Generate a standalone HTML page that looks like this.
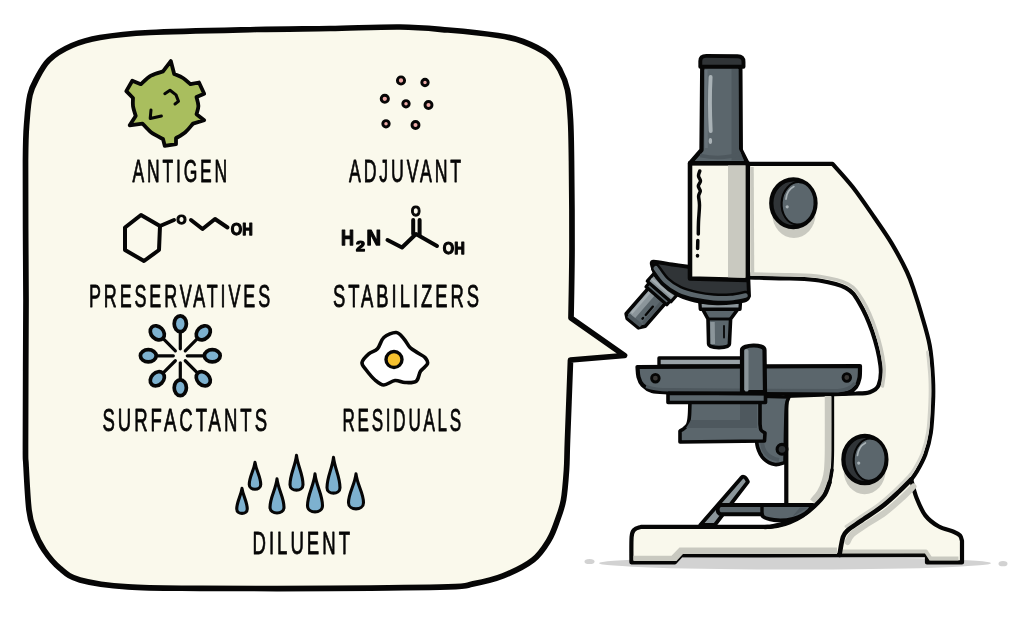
<!DOCTYPE html>
<html lang="en"><head><meta charset="utf-8"><title>Vaccine ingredients</title>
<style>html,body{margin:0;padding:0;background:#fff}body{width:1024px;height:643px;overflow:hidden}svg{display:block;will-change:transform;transform:translateZ(0)}</style>
</head><body>
<svg width="1024" height="643" viewBox="0 0 1024 643">
<path d="M26.0 300.0C25.9 276.8 25.3 191.0 25.5 161.0C25.7 131.0 26.2 131.0 27.0 120.0C27.8 109.0 28.5 101.7 30.0 95.0C31.5 88.3 32.8 85.8 36.0 80.0C39.2 74.2 43.0 65.8 49.0 60.0C55.0 54.2 63.5 49.2 72.0 45.5C80.5 41.8 87.0 39.7 100.0 37.5C113.0 35.3 124.0 33.8 150.0 32.5C176.0 31.2 226.0 30.2 256.0 29.5C286.0 28.8 306.0 28.9 330.0 28.5C354.0 28.1 380.3 26.8 400.0 27.0C419.7 27.2 431.7 28.6 448.0 30.0C464.3 31.4 485.5 33.6 498.0 35.5C510.5 37.4 514.7 38.3 523.0 41.5C531.3 44.7 541.8 49.8 548.0 54.5C554.2 59.2 556.8 64.1 560.0 70.0C563.2 75.9 565.8 81.7 567.5 90.0C569.2 98.3 569.8 108.2 570.5 120.0C571.2 131.8 571.2 139.3 571.5 161.0C571.8 182.7 572.1 223.8 572.0 250.0C571.9 276.2 571.2 306.7 571.0 318.0L624.5 355.5L570.5 360.0C570.0 373.3 568.2 421.7 567.5 440.0C566.8 458.3 567.2 460.0 566.5 470.0C565.8 480.0 565.0 491.7 563.5 500.0C562.0 508.3 559.9 513.3 557.5 520.0C555.1 526.7 553.1 533.3 549.0 540.0C544.9 546.7 540.7 554.0 533.0 560.0C525.3 566.0 513.0 571.9 503.0 575.9C493.0 579.9 482.2 582.1 473.0 583.9C463.8 585.7 471.8 586.1 448.0 586.9C424.2 587.6 371.3 588.1 330.0 588.4C288.7 588.6 233.7 588.6 200.0 588.4C166.3 588.1 148.0 588.3 128.0 586.9C108.0 585.5 91.3 583.0 80.0 579.9C68.7 576.8 66.0 573.4 60.0 568.4C54.0 563.4 48.3 556.4 44.0 550.0C39.7 543.6 36.5 536.7 34.0 530.0C31.5 523.3 30.3 520.8 29.0 510.0C27.7 499.2 26.6 476.7 26.0 465.0C25.4 453.3 25.5 467.5 25.5 440.0C25.5 412.5 25.9 323.3 26.0 300.0Z" fill="#faf9ec" stroke="#060606" stroke-width="5.7" stroke-linejoin="round"/>
<g font-family="'Liberation Sans', sans-serif" fill="#060606" stroke="#060606" stroke-width="0.8" stroke-linejoin="round">
<text x="132.5" y="181.5" font-size="31" letter-spacing="5" textLength="97.5" lengthAdjust="spacingAndGlyphs">ANTIGEN</text>
<text x="349" y="182" font-size="31" letter-spacing="5" textLength="115.0" lengthAdjust="spacingAndGlyphs">ADJUVANT</text>
<text x="89" y="306.5" font-size="31" letter-spacing="5" textLength="184.0" lengthAdjust="spacingAndGlyphs">PRESERVATIVES</text>
<text x="333" y="306.5" font-size="31" letter-spacing="5" textLength="149.0" lengthAdjust="spacingAndGlyphs">STABILIZERS</text>
<text x="102.5" y="431" font-size="31" letter-spacing="5" textLength="167.5" lengthAdjust="spacingAndGlyphs">SURFACTANTS</text>
<text x="342.5" y="431" font-size="31" letter-spacing="5" textLength="121.5" lengthAdjust="spacingAndGlyphs">RESIDUALS</text>
<text x="252.5" y="554" font-size="31" letter-spacing="5" textLength="100.5" lengthAdjust="spacingAndGlyphs">DILUENT</text>
</g>
<path d="M170.8 61.1L174.2 74.0C175.7 74.7 180.3 76.3 183.0 78.0C185.7 79.7 189.2 83.2 190.5 84.2L199.0 82.5L204.2 93.7L196.5 97.1C196.8 98.6 198.4 103.2 198.4 106.0C198.4 108.8 196.8 112.8 196.5 114.2L204.2 120.2L193.0 123.6C191.7 125.0 188.1 129.8 185.3 132.2C182.5 134.6 177.6 137.2 176.0 138.2L176.0 144.2L164.8 145.9L163.0 139.0C161.0 137.9 154.4 134.8 151.0 132.2C147.6 129.6 143.9 125.0 142.5 123.6L129.7 125.3L135.7 115.9C135.2 114.2 133.4 109.0 133.0 106.0C132.6 103.0 133.0 99.3 133.0 98.0L126.3 91.1L132.3 80.8L140.8 84.2C142.5 82.8 147.3 77.8 151.0 75.7C154.7 73.6 161.0 72.1 163.0 71.4L170.8 61.1Z" fill="#a9be5e" stroke="#060606" stroke-width="3.8" stroke-linejoin="round"/>
<path d="M164.8 93.7L170 90.2L176 94.9L178.5 101.4L175 104" fill="none" stroke="#060606" stroke-width="3" stroke-linecap="round" stroke-linejoin="round"/>
<path d="M151 110L150.2 118.5L161.4 116" fill="none" stroke="#060606" stroke-width="3" stroke-linecap="round" stroke-linejoin="round"/>
<circle cx="401" cy="80.5" r="3.6" fill="#eeaaa8" stroke="#060606" stroke-width="2.9"/>
<circle cx="425" cy="82.5" r="3.2" fill="#eeaaa8" stroke="#060606" stroke-width="2.9"/>
<circle cx="384.8" cy="98.8" r="3.6" fill="#eeaaa8" stroke="#060606" stroke-width="2.9"/>
<circle cx="406" cy="103.8" r="3.2" fill="#eeaaa8" stroke="#060606" stroke-width="2.9"/>
<circle cx="428.5" cy="105" r="3.5" fill="#eeaaa8" stroke="#060606" stroke-width="2.9"/>
<circle cx="386" cy="123.8" r="3.2" fill="#eeaaa8" stroke="#060606" stroke-width="2.9"/>
<circle cx="415.5" cy="125" r="3.5" fill="#eeaaa8" stroke="#060606" stroke-width="2.9"/>
<g fill="none" stroke="#060606" stroke-width="4" stroke-linecap="round" stroke-linejoin="round">
<path d="M141 215L160 226L159 250L144 261L125 250L125 227.5Z"/>
<path d="M160 226L174 220"/>
<path d="M191 220L202.5 229L215 219L227.5 227.5"/>
<path d="M387.5 240L402 247.5L416 234L437 246"/>
<path d="M413.2 234L413.2 220M419.6 235L419.6 220"/>
</g>
<g font-family="'Liberation Sans', sans-serif" font-weight="bold" fill="#060606" stroke="#060606" stroke-width="1.25" stroke-linejoin="round">
<text x="176.6" y="223.6" font-size="13.5" textLength="10" lengthAdjust="spacingAndGlyphs">O</text>
<text x="411" y="215.6" font-size="15.5" textLength="9.6" lengthAdjust="spacingAndGlyphs">O</text>
<text x="230.8" y="234.8" font-size="17" textLength="22" lengthAdjust="spacingAndGlyphs">OH</text>
<text x="442.8" y="254" font-size="17" textLength="22" lengthAdjust="spacingAndGlyphs">OH</text>
<text y="245" font-size="21.5"><tspan x="341" textLength="13" lengthAdjust="spacingAndGlyphs">H</tspan><tspan x="356" y="250.6" font-size="14.5" textLength="9" lengthAdjust="spacingAndGlyphs">2</tspan><tspan x="366.5" y="245" textLength="14.5" lengthAdjust="spacingAndGlyphs">N</tspan></text>
</g>
<g stroke="#060606" stroke-linecap="round">
<g transform="translate(180.3,355.8) rotate(-90)"><path d="M7 0L24 0" stroke-width="3.2" fill="none"/><ellipse cx="32" cy="0" rx="7.9" ry="6.1" fill="#7db1cf" stroke-width="3.7"/></g>
<g transform="translate(180.3,355.8) rotate(-45)"><path d="M7 0L24.5 0" stroke-width="3.2" fill="none"/><ellipse cx="32.5" cy="0" rx="7.9" ry="6.1" fill="#7db1cf" stroke-width="3.7"/></g>
<g transform="translate(180.3,355.8) rotate(0)"><path d="M7 0L24 0" stroke-width="3.2" fill="none"/><ellipse cx="32" cy="0" rx="7.9" ry="6.1" fill="#7db1cf" stroke-width="3.7"/></g>
<g transform="translate(180.3,355.8) rotate(45)"><path d="M7 0L24.5 0" stroke-width="3.2" fill="none"/><ellipse cx="32.5" cy="0" rx="7.9" ry="6.1" fill="#7db1cf" stroke-width="3.7"/></g>
<g transform="translate(180.3,355.8) rotate(90)"><path d="M7 0L24 0" stroke-width="3.2" fill="none"/><ellipse cx="32" cy="0" rx="7.9" ry="6.1" fill="#7db1cf" stroke-width="3.7"/></g>
<g transform="translate(180.3,355.8) rotate(135)"><path d="M7 0L24.5 0" stroke-width="3.2" fill="none"/><ellipse cx="32.5" cy="0" rx="7.9" ry="6.1" fill="#7db1cf" stroke-width="3.7"/></g>
<g transform="translate(180.3,355.8) rotate(180)"><path d="M7 0L24 0" stroke-width="3.2" fill="none"/><ellipse cx="32" cy="0" rx="7.9" ry="6.1" fill="#7db1cf" stroke-width="3.7"/></g>
<g transform="translate(180.3,355.8) rotate(225)"><path d="M7 0L24.5 0" stroke-width="3.2" fill="none"/><ellipse cx="32.5" cy="0" rx="7.9" ry="6.1" fill="#7db1cf" stroke-width="3.7"/></g>
</g>
<path d="M396.2 332.5C399.6 332.8 401.7 336.5 404.0 339.0C406.3 341.5 407.7 345.2 410.0 347.5C412.3 349.8 415.5 351.3 418.0 353.0C420.5 354.7 423.4 355.7 425.0 357.5C426.6 359.3 428.2 361.5 427.5 363.8C426.8 366.1 422.4 368.3 420.5 371.2C418.6 374.1 418.8 379.3 416.2 381.2C413.6 383.1 408.5 382.6 405.0 382.5C401.5 382.4 398.5 380.1 395.0 380.5C391.5 380.9 387.1 385.1 383.8 385.0C380.5 384.9 377.9 382.5 375.0 380.0C372.1 377.5 368.4 372.9 366.2 370.0C364.0 367.1 361.6 365.2 362.0 362.5C362.4 359.8 366.2 356.1 368.8 353.8C371.4 351.5 375.0 351.5 377.5 348.8C380.0 346.1 380.7 340.2 383.8 337.5C386.9 334.8 392.8 332.2 396.2 332.5Z" fill="#ffffff" stroke="#060606" stroke-width="3.6"/>
<circle cx="394" cy="359.5" r="8" fill="#f6c12f" stroke="#060606" stroke-width="3.4"/>
<path d="M242 488.4C243.2 496.22999999999996 247.25 501.972 247.25 508.9875C247.25 514.9 236.75 514.9 236.75 508.9875C236.75 501.972 240.8 496.22999999999996 242 488.4Z" fill="#7db1cf" stroke="#060606" stroke-width="3.1" stroke-linejoin="round"/>
<path d="M255 462.4C256.2 470.83 260.75 477.012 260.75 484.4625C260.75 490.9 249.25 490.9 249.25 484.4625C249.25 477.012 253.8 470.83 255 462.4Z" fill="#7db1cf" stroke="#060606" stroke-width="3.1" stroke-linejoin="round"/>
<path d="M277 478.9C278.2 489.58 284.0 497.412 284.0 507.15C284.0 514.9 270.0 514.9 270.0 507.15C270.0 497.412 275.8 489.58 277 478.9Z" fill="#7db1cf" stroke="#060606" stroke-width="3.1" stroke-linejoin="round"/>
<path d="M296.5 455.4C297.7 466.22999999999996 303.0 474.17199999999997 303.0 484.675C303.0 491.9 290.0 491.9 290.0 484.675C290.0 474.17199999999997 295.3 466.22999999999996 296.5 455.4Z" fill="#7db1cf" stroke="#060606" stroke-width="3.1" stroke-linejoin="round"/>
<path d="M315 473.9C316.2 485.78 322.5 494.49199999999996 322.5 505.625C322.5 513.9 307.5 513.9 307.5 505.625C307.5 494.49199999999996 313.8 485.78 315 473.9Z" fill="#7db1cf" stroke="#060606" stroke-width="3.1" stroke-linejoin="round"/>
<path d="M333.5 457.4C334.7 468.53 340.0 476.692 340.0 487.675C340.0 494.9 327.0 494.9 327.0 487.675C327.0 476.692 332.3 468.53 333.5 457.4Z" fill="#7db1cf" stroke="#060606" stroke-width="3.1" stroke-linejoin="round"/>
<path d="M356 473.9C357.2 484.88 363.5 492.932 363.5 502.625C363.5 510.9 348.5 510.9 348.5 502.625C348.5 492.932 354.8 484.88 356 473.9Z" fill="#7db1cf" stroke="#060606" stroke-width="3.1" stroke-linejoin="round"/>
<!-- microscope -->
<ellipse cx="795" cy="563.2" rx="196" ry="6.3" fill="#d2d2d2"/>
<ellipse cx="589.5" cy="561.5" rx="5" ry="2.6" fill="#d2d2d2"/>
<ellipse cx="1003" cy="563.7" rx="4.5" ry="2.6" fill="#d2d2d2"/>
<path d="M748.0 163.8L832.5 163.8C835.9 167.7 845.7 178.1 852.7 187.0C859.7 195.9 867.9 208.1 874.4 217.5C880.9 226.9 886.4 234.5 891.8 243.6C897.2 252.7 903.2 263.9 907.0 272.0C910.8 280.1 912.2 285.2 914.5 292.0C916.8 298.8 918.5 303.8 921.0 312.7C923.5 321.6 927.7 334.4 929.7 345.3C931.7 356.2 932.4 368.6 932.9 378.0C933.4 387.4 933.4 392.9 933.0 402.0C932.6 411.1 932.1 424.0 930.8 432.7C929.5 441.4 927.7 447.9 925.3 454.4C922.9 460.9 919.0 467.6 916.6 471.8C914.2 476.0 912.1 478.2 911.2 479.5C912.1 482.6 914.2 492.0 916.6 498.0C919.0 504.0 921.7 510.7 925.3 515.4C928.9 520.1 933.7 523.6 938.4 526.3C943.1 529.0 950.0 530.2 953.6 531.7C957.2 533.2 958.6 534.0 960.0 535.5C961.4 537.0 961.7 540.1 962.0 541.0L962.0 562.4L927.0 562.4L927.0 555.0L681.0 555.5L674.8 562.3L631.4 562.3C631.4 558.1 631.2 542.4 631.6 537.0C632.0 531.6 632.4 531.7 634.0 530.0C635.6 528.3 639.8 527.4 641.0 526.9L770.0 526.9L786.3 523.0L786.3 396.0L856.0 393.5C858.3 393.3 865.8 393.7 869.6 392.3C873.4 390.9 876.8 389.7 878.6 385.3C880.4 380.9 881.6 374.8 880.5 365.8C879.4 356.8 875.8 342.0 872.2 331.4C868.6 320.8 863.4 309.6 859.0 302.3C854.6 295.0 852.4 291.4 845.8 287.8C839.2 284.2 828.6 282.1 819.3 280.5C810.0 278.9 801.9 279.0 790.0 278.5C778.1 278.0 755.0 277.7 748.0 277.5Z" fill="#f9f8ec" stroke="#060606" stroke-width="4.2" stroke-linejoin="round"/>
<path d="M750.0 274.0C756.7 274.1 778.3 274.4 790.0 274.8C801.7 275.2 810.3 275.0 820.0 276.5C829.7 278.0 840.9 280.1 848.0 284.0C855.1 287.9 857.8 292.2 862.5 300.0C867.2 307.8 872.4 319.7 876.0 330.5C879.6 341.3 882.9 355.8 884.0 365.0C885.1 374.2 882.8 382.5 882.5 386.0" fill="none" stroke="#c9c9c0" stroke-width="3.4" stroke-linecap="round"/>
<path d="M752 167L752.5 273" stroke="#c9c9c0" stroke-width="3.5" fill="none"/>
<path d="M828.0 396.0C828.0 405.0 828.1 437.7 828.0 450.0C827.9 462.3 827.7 464.8 827.2 470.0C826.7 475.2 826.0 477.8 824.8 481.5C823.6 485.2 822.0 489.2 820.0 492.5C818.0 495.8 813.8 500.0 812.5 501.5" fill="none" stroke="#c9c9c0" stroke-width="6.5" />
<path d="M832.8 394.0C832.8 403.3 832.9 437.3 832.8 450.0C832.7 462.7 832.5 464.6 832.0 470.0C831.5 475.4 830.8 478.2 829.6 482.4C828.4 486.5 827.1 491.0 824.6 494.9C822.1 498.8 818.4 502.5 814.7 506.0C811.0 509.5 806.4 513.3 802.2 516.0C798.1 518.7 793.9 520.6 789.8 522.3C785.6 524.0 781.4 525.2 777.3 526.0C773.1 526.8 767.0 526.9 764.9 527.1" fill="none" stroke="#060606" stroke-width="2.7"/>
<path d="M829.6 482.4C828.8 484.5 827.1 491.0 824.6 494.9C822.1 498.8 818.4 502.5 814.7 506.0C811.0 509.5 806.4 513.3 802.2 516.0C798.1 518.7 793.9 520.6 789.8 522.3C785.6 524.0 781.4 525.2 777.3 526.0C773.1 526.8 767.0 526.9 764.9 527.1" fill="none" stroke="#060606" stroke-width="4.3" stroke-linecap="round"/>
<path d="M832.0 470.0C831.6 472.1 830.8 478.2 829.6 482.4C828.4 486.5 825.4 492.8 824.6 494.9" fill="none" stroke="#060606" stroke-width="3.5" stroke-linecap="round"/>
<path d="M633.5 555.8L671.5 555.8L679.5 547.6L837 547.6L837 554L683 554L676.5 561L633.5 561Z" fill="#c9c9c0"/>
<path d="M842 551.5L926 551.5L930.5 558.5L958.5 558.5" stroke="#c9c9c0" stroke-width="4" fill="none" stroke-linejoin="round"/>
<path d="M927.5 352.0C927.9 356.3 929.4 369.7 929.8 378.0C930.2 386.3 930.2 393.0 929.8 402.0C929.4 411.0 928.9 423.5 927.6 432.0C926.3 440.5 924.5 446.8 922.2 453.0C919.9 459.2 916.2 465.5 913.8 469.5C911.4 473.5 910.9 473.8 908.0 477.0C905.1 480.2 901.2 484.1 896.5 488.5C891.8 492.9 885.8 498.6 879.5 503.5C873.2 508.4 864.1 514.0 858.5 517.8C852.9 521.6 848.1 525.0 846.0 526.5" fill="none" stroke="#d3d3ca" stroke-width="2.8" stroke-linecap="round"/>
<path d="M913.5 486.5C911.6 488.4 906.8 493.7 902.0 498.0C897.2 502.3 891.3 507.8 885.0 512.5C878.7 517.2 869.5 522.3 864.0 526.0C858.5 529.7 854.8 531.8 852.0 534.5C849.2 537.2 848.2 540.8 847.5 542.0" fill="none" stroke="#cdcdc4" stroke-width="6" stroke-linecap="round"/>
<path d="M911.2 479.5C909.2 481.5 904.1 486.9 899.2 491.4C894.3 495.9 888.2 501.8 881.8 506.7C875.4 511.6 866.4 517.1 860.8 521.0C855.2 524.9 851.0 527.3 848.0 530.0C845.0 532.7 844.4 532.8 843.0 537.0C841.6 541.2 840.1 552.0 839.5 555.0" fill="none" stroke="#060606" stroke-width="4.6" stroke-linecap="round"/>
<path d="M741.4 477.8C742.6 475.8 745.4 476 747.9 481.8L714.8 525L700.3 525Z" fill="#8b959a" stroke="#060606" stroke-width="3.8" stroke-linejoin="round"/>
<path d="M721 505L813 505L809 510.5C801 518.5 786 521.5 774 520C766.5 519 762 517.5 762 514.2L721 514.2C716.5 514.2 716.5 505 721 505Z" fill="#5b666c" stroke="#060606" stroke-width="3.9" stroke-linejoin="round"/>
<path d="M762 514.2L762 507" stroke="#060606" stroke-width="3.4" fill="none"/>
<path d="M792 517L808 507.5L800 507.5Z" fill="#4e585e"/>
<path d="M756.0 396.0L789.0 397.0C788.6 398.3 787.1 399.5 786.5 405.0C785.9 410.5 785.9 420.4 785.6 430.0C785.4 439.6 785.1 457.1 785.0 462.5C783.3 462.8 778.5 465.1 775.0 464.5C771.5 463.9 766.9 461.9 764.0 459.0C761.1 456.1 758.8 451.8 757.5 447.0C756.2 442.2 756.2 432.8 756.0 430.0Z" fill="#5b666c" stroke="#060606" stroke-width="3.6" stroke-linejoin="round"/>
<path d="M762 440C762 452 768 458 779 460" stroke="#4e585e" stroke-width="4" fill="none"/>
<circle cx="782" cy="449.3" r="4.9" fill="#303437" stroke="#060606" stroke-width="3.12"/>
<path d="M690.0 400.0C689.9 402.5 689.8 411.0 689.5 415.0C689.2 419.0 688.9 421.8 688.0 424.0C687.1 426.2 685.3 427.3 684.0 428.5C682.7 429.7 680.7 430.6 680.0 431.0L680.0 442.0L764.5 441.0L765.0 433.0C764.3 432.5 761.8 431.5 761.0 430.0C760.2 428.5 760.2 425.0 760.0 424.0L760.0 400.0Z" fill="#5b666c" stroke="#060606" stroke-width="3.6" stroke-linejoin="round"/>
<path d="M694 421L740 421L740 404" stroke="#4e585e" stroke-width="0" fill="none"/>
<path d="M740 404L757 404L757 428L686 428L691 420L740 420Z" fill="#4e585e"/>
<path d="M668 393.5L765.5 393.5L765.5 402.5L668 402.5Z" fill="#5b666c" stroke="#060606" stroke-width="3.6" stroke-linejoin="round"/>
<path d="M659 358L742 358L742 366L659 366Z" fill="#99a2a7" stroke="#060606" stroke-width="3.36" stroke-linejoin="round"/>
<path d="M637.5 367.0L860.0 366.0C859.9 368.0 860.2 374.5 859.5 378.0C858.8 381.5 857.8 384.6 856.0 387.0C854.2 389.4 852.0 391.3 849.0 392.5C846.0 393.7 839.8 393.8 838.0 394.0L785.0 393.5L668.0 392.5C665.3 392.2 656.2 392.2 652.0 391.0C647.8 389.8 644.8 387.3 642.5 385.0C640.2 382.7 639.3 380.0 638.5 377.0C637.7 374.0 637.7 368.7 637.5 367.0Z" fill="#5b666c" stroke="#060606" stroke-width="4.2" stroke-linejoin="round"/>
<path d="M646 386.5C655 389.5 662 389.8 668 389.8L838 390.8C846 390 851 388 855 383" stroke="#4e585e" stroke-width="3.4" fill="none"/>
<circle cx="655.4" cy="378.2" r="3.8" fill="#3a3836" stroke="#060606" stroke-width="2.8"/>
<circle cx="846.8" cy="377.5" r="3.8" fill="#3a3836" stroke="#060606" stroke-width="2.8"/>
<path d="M742 392L742 350C742 344.5 764.5 343.5 764.5 350L765 392Z" fill="#5b666c" stroke="#060606" stroke-width="4.2" stroke-linejoin="round"/>
<path d="M746.5 351L746.5 390" stroke="#8b959a" stroke-width="4" fill="none" stroke-linecap="round"/>
<path d="M668 393.2L765.5 393.2" stroke="#060606" stroke-width="3.6" fill="none"/>
<ellipse cx="793.9" cy="214.2" rx="21.6" ry="23.9" fill="#c9c9c0"/>
<ellipse cx="793.4" cy="203.2" rx="22.1" ry="23.9" fill="#303437" stroke="#060606" stroke-width="4.3"/>
<ellipse cx="798.1" cy="203.0" rx="16.5" ry="21.299999999999997" fill="#5b666c" stroke="#060606" stroke-width="2.1" transform="rotate(4 793.4 203.2)"/>
<path d="M786.0 199.2C786.6 193.2 789.8 188.7 793.9 186.6" stroke="#a9b2b6" stroke-width="1.7" fill="none" stroke-linecap="round"/>
<circle cx="787.1999999999999" cy="206.79999999999998" r="1.6" fill="#a9b2b6"/>
<ellipse cx="864.6" cy="470.5" rx="21.0" ry="23.7" fill="#c9c9c0"/>
<ellipse cx="864.9" cy="459.5" rx="21.5" ry="23.7" fill="#303437" stroke="#060606" stroke-width="4.3"/>
<ellipse cx="869.6" cy="459.3" rx="15.9" ry="21.099999999999998" fill="#5b666c" stroke="#060606" stroke-width="2.1" transform="rotate(4 864.9 459.5)"/>
<path d="M857.5 455.5C858.1 449.5 861.3 445.0 865.4 442.9" stroke="#a9b2b6" stroke-width="1.7" fill="none" stroke-linecap="round"/>
<circle cx="858.6999999999999" cy="463.1" r="1.6" fill="#a9b2b6"/>
<g transform="translate(663.2,286.4) rotate(131)">
<path d="M11 -12.6L42 -12.6L47.5 -8.5L48 6L45 10L11 10Z" fill="#5b666c" stroke="#060606" stroke-width="3.6" stroke-linejoin="round"/>
<path d="M12.5 4.2L42.5 4.2" stroke="#8b959a" stroke-width="7.6" fill="none"/>
<path d="M12.5 6.5L41 6.5" stroke="#a3acb0" stroke-width="2.6" fill="none"/>
<path d="M44 -9L44.6 7.2" stroke="#4e585e" stroke-width="4.2" fill="none"/>
<path d="M12.5 -9.2L41 -9.2" stroke="#4e585e" stroke-width="3.4" fill="none"/>
<path d="M22 -5.5L33 -5.5M37 -5.5L38 -5.5" stroke="#060606" stroke-width="2.3" fill="none" stroke-linecap="round"/>
<path d="M6.5 -14.8L11.5 -14.8L11.5 12.8L6.5 12.8Z" fill="#5b666c" stroke="#060606" stroke-width="3.2" stroke-linejoin="round"/>
<path d="M-3 -16L6.5 -16L6.5 15.5L-3 15.5Z" fill="#8b959a" stroke="#060606" stroke-width="3.2" stroke-linejoin="round"/>
<path d="M1.8 -14L1.8 14" stroke="#a3acb0" stroke-width="2.4" fill="none"/>
</g>
<path d="M702.5 309L708 319L708.6 344C708.6 348.8 729.4 348.8 729.4 344L730.6 319L738 309Z" fill="#5b666c" stroke="#060606" stroke-width="3.6" stroke-linejoin="round"/>
<path d="M712.5 322L712.8 344" stroke="#8b959a" stroke-width="4.5" fill="none"/>
<path d="M708 319L730.6 319" stroke="#060606" stroke-width="2.88" fill="none"/>
<path d="M724 326L724 337.5" stroke="#060606" stroke-width="1.8" fill="none" stroke-linecap="round"/>
<path d="M699.8 302L740.5 302L740 309.2L700.3 309.2Z" fill="#8b959a" stroke="#060606" stroke-width="3.36" stroke-linejoin="round"/>
<path d="M652.3 266.0C652.5 265.3 650.2 262.1 653.5 261.8C656.8 261.6 665.9 263.6 672.0 264.5C678.1 265.4 687.0 266.6 690.0 267.0L748.0 270.0L749.0 296.0C748.5 296.7 748.5 298.9 746.0 300.0C743.5 301.1 738.8 301.8 734.0 302.4C729.2 303.0 722.7 303.5 717.0 303.4C711.3 303.3 705.7 302.7 700.0 301.6C694.3 300.5 688.0 299.0 682.8 297.0C677.6 295.0 673.3 292.7 669.0 289.4C664.7 286.1 659.8 281.3 657.0 277.4C654.2 273.5 653.1 267.9 652.3 266.0Z" fill="#303437" stroke="#060606" stroke-width="3.9" stroke-linejoin="round"/>
<path d="M655.8 268.3C657.4 270.4 661.8 277.5 665.7 281.2C669.6 284.9 674.3 287.9 679.4 290.3C684.5 292.7 690.8 294.3 696.5 295.6C702.2 296.9 707.9 297.7 713.6 298.1C719.3 298.5 725.5 298.5 730.8 298.1C736.1 297.7 743.0 296.0 745.5 295.6" fill="none" stroke="#060606" stroke-width="9.6" stroke-linecap="round"/>
<path d="M655.8 268.3C657.4 270.4 661.8 277.5 665.7 281.2C669.6 284.9 674.3 287.9 679.4 290.3C684.5 292.7 690.8 294.3 696.5 295.6C702.2 296.9 707.9 297.7 713.6 298.1C719.3 298.5 725.5 298.5 730.8 298.1C736.1 297.7 743.0 296.0 745.5 295.6" fill="none" stroke="#5b666c" stroke-width="4.6" stroke-linecap="round"/>
<path d="M690 163.2L747.5 163.2L747.5 280L690 278.5Z" fill="#f9f8ec" stroke="#060606" stroke-width="4.56" stroke-linejoin="round"/>
<path d="M728 165L745.5 165L745.5 277.8L728 277.3Z" fill="#c9c9c0"/>
<path d="M699.8 171.0C699.6 171.8 698.4 174.3 698.5 176.0C698.6 177.7 700.5 179.3 700.5 181.0C700.5 182.7 698.3 184.3 698.3 186.0C698.3 187.7 700.2 189.3 700.3 191.0C700.3 192.7 698.7 193.7 698.6 196.0C698.5 198.3 699.5 200.7 699.5 205.0C699.5 209.3 698.7 217.2 698.5 222.0C698.3 226.8 698.3 232.0 698.3 234.0" fill="none" stroke="#060606" stroke-width="3.48" stroke-linecap="round"/>
<path d="M697.8 240.5L697.6 248.5M697.5 255.5L697.5 256" stroke="#060606" stroke-width="3.48" fill="none" stroke-linecap="round"/>
<path d="M702.3 62L740.3 62L740.8 150L747.5 163.2L690 163.2L701.5 150Z" fill="#5b666c" stroke="#060606" stroke-width="4.32" stroke-linejoin="round"/>
<path d="M731.5 69L738.6 69L739 149L744 160.6L731.5 160.6Z" fill="#4e585e"/>
<path d="M700 155.5C715 158.5 730 157.5 741 153.5" stroke="#4e585e" stroke-width="3.5" fill="none"/>
<path d="M706 70L706.3 148" stroke="#68737a" stroke-width="3" fill="none"/>
<path d="M710.6 77C709.6 95 709.9 115 710.7 131" stroke="#a9b2b6" stroke-width="3.9" fill="none" stroke-linecap="round"/>
<ellipse cx="710.4" cy="141" rx="1.7" ry="3" fill="#a9b2b6"/>
<path d="M700.3 66.8L700.3 61C700.3 57.5 702.5 55.9 706.3 55.9L737.5 56.3C741.3 56.3 743.5 58 743.5 62L743.5 66.8Z" fill="#303437" stroke="#060606" stroke-width="3.9" stroke-linejoin="round"/>
</svg>
</body></html>
